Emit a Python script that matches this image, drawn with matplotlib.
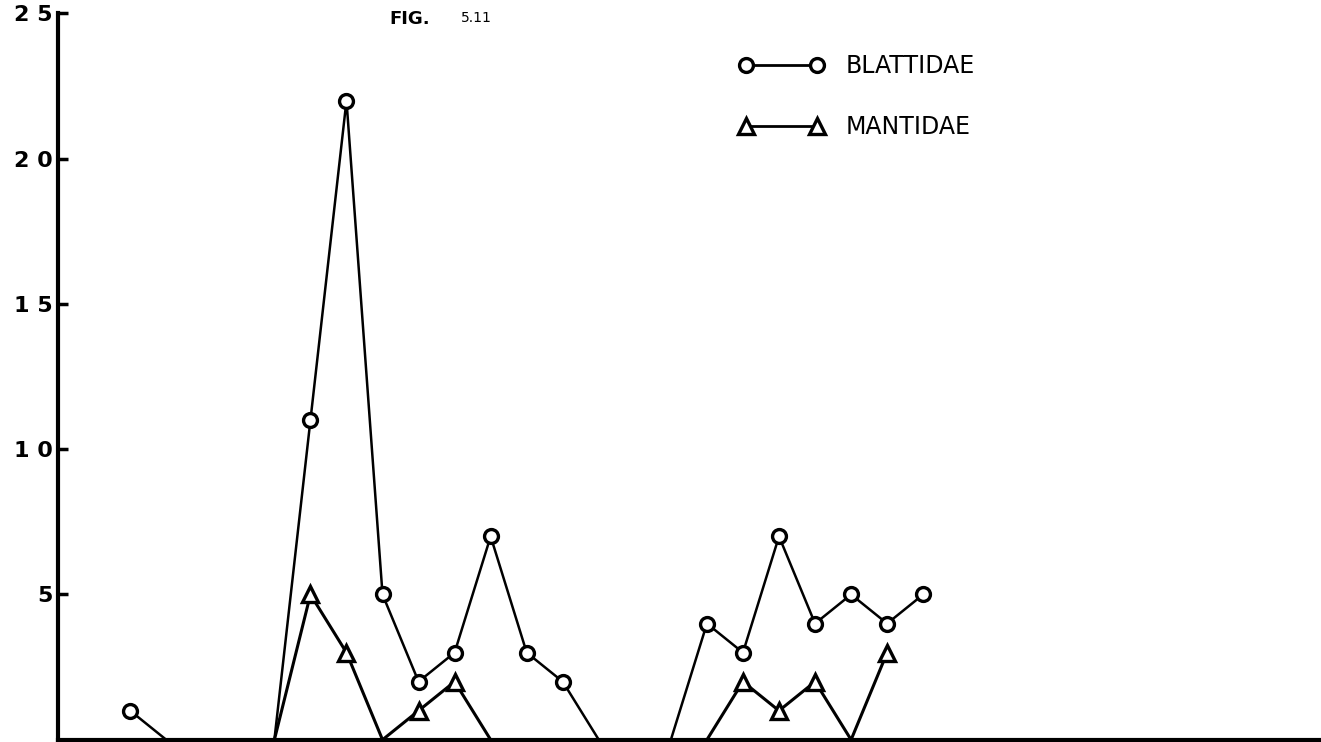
import matplotlib.pyplot as plt
import numpy as np

# sampling periods (index along the x axis, no labels in the original)
periods = np.arange(0, 23)

blattidae = np.array([1, 0, 0, 0, 0, 11, 22, 5, 2, 3, 7, 3, 2, 0, 0, 0,
                      4, 3, 7, 4, 5, 4, 5], dtype=float)
# mantidae not recorded before period 4 and after period 21
mantidae = np.array([np.nan, np.nan, np.nan, np.nan, 0, 5, 3, 0, 1, 2, 0, 0,
                     0, 0, 0, 0, 0, 2, 1, 2, 0, 3, np.nan], dtype=float)

ytick_vals = [5, 10, 15, 20, 25]
ytick_labels = ["5", "1 0", "1 5", "2 0", "2 5"]

plt.rcParams['font.family'] = ['DejaVu Sans']

fig = plt.figure(figsize=(13.21, 7.42), dpi=100)
ax = fig.add_axes([0.044, 0.003, 0.955, 0.979])

# lines through every point, markers only where something was caught
ax.plot(periods, blattidae, color='black', lw=1.8, zorder=2)
ax.plot(periods, mantidae, color='black', lw=2.2, zorder=2)

b_mark = np.where(blattidae > 0, blattidae, np.nan)
m_mark = np.where(mantidae > 0, mantidae, np.nan)
ax.plot(periods, b_mark, 'o', ms=10, mfc='white', mec='black', mew=2.4, zorder=3)
ax.plot(periods, m_mark, '^', ms=12, mfc='white', mec='black', mew=2.4, zorder=3)

# legend handles
h1, = ax.plot([], [], '-o', color='black', lw=2, ms=10, mfc='white', mew=2.4)
h2, = ax.plot([], [], '-^', color='black', lw=2, ms=11, mfc='white', mew=2.4)
ax.legend([h1, h2], ["BLATTIDAE", "MANTIDAE"], numpoints=2, frameon=False,
          loc='upper left', bbox_to_anchor=(0.523, 0.973), handlelength=3.6,
          handletextpad=0.9, labelspacing=1.55, prop={'size': 17})

ax.set_xlim(-2, 33)
ax.set_ylim(0, 25)
ax.set_xticks([])
ax.set_yticks(ytick_vals)
ax.set_yticklabels(ytick_labels, fontsize=16, fontweight='bold')
ax.tick_params(axis='y', direction='in', length=7, width=2.5, pad=4)

for s in ['top', 'right']:
    ax.spines[s].set_visible(False)
ax.spines['left'].set_linewidth(3)
ax.spines['bottom'].set_linewidth(3)

fig.text(0.295, 0.974, "FIG.", fontsize=13, fontweight='bold', va='center')
fig.text(0.349, 0.976, "5.11", fontsize=10, va='center')

fig.savefig("out.png", dpi=100)
